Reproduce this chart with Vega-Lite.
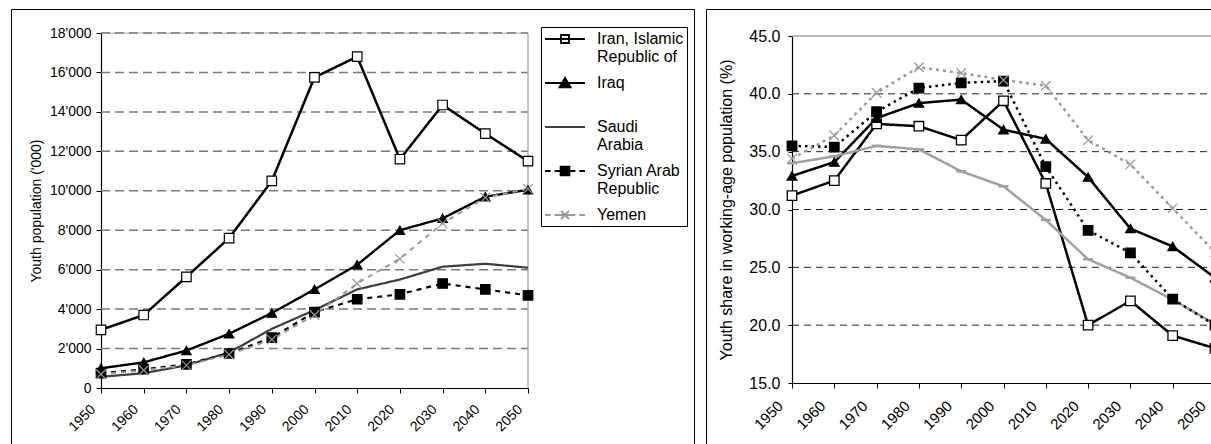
{
  "$schema": "https://vega.github.io/schema/vega-lite/v6.json",
  "padding": {"left": 10, "top": 8, "right": 0, "bottom": 0},
  "spacing": 10,
  "resolve": {
    "scale": {"shape": "independent", "stroke": "independent", "fill": "independent", "strokeDash": "independent", "strokeWidth": "independent"},
    "legend": {"shape": "independent", "stroke": "independent", "fill": "independent", "strokeDash": "independent", "strokeWidth": "independent"}
  },
  "config": {
    "view": {"stroke": "#000000", "strokeWidth": 1},
    "font": "Liberation Sans",
    "axis": {"domainColor": "#000000", "tickColor": "#000000", "labelColor": "#000000", "titleColor": "#000000", "titleFontWeight": "normal", "grid": false, "labelFont": "Liberation Sans", "titleFont": "Liberation Sans", "domainWidth": 1.2, "tickWidth": 1}
  },
  "datasets": {
    "pop": [
      {"country": "Iran, Islamic Republic of", "year": 1950, "value": 2950},
      {"country": "Iran, Islamic Republic of", "year": 1960, "value": 3700},
      {"country": "Iran, Islamic Republic of", "year": 1970, "value": 5630},
      {"country": "Iran, Islamic Republic of", "year": 1980, "value": 7600},
      {"country": "Iran, Islamic Republic of", "year": 1990, "value": 10500},
      {"country": "Iran, Islamic Republic of", "year": 2000, "value": 15750},
      {"country": "Iran, Islamic Republic of", "year": 2010, "value": 16800},
      {"country": "Iran, Islamic Republic of", "year": 2020, "value": 11600},
      {"country": "Iran, Islamic Republic of", "year": 2030, "value": 14350},
      {"country": "Iran, Islamic Republic of", "year": 2040, "value": 12900},
      {"country": "Iran, Islamic Republic of", "year": 2050, "value": 11500},
      {"country": "Iraq", "year": 1950, "value": 1000},
      {"country": "Iraq", "year": 1960, "value": 1300},
      {"country": "Iraq", "year": 1970, "value": 1900},
      {"country": "Iraq", "year": 1980, "value": 2750},
      {"country": "Iraq", "year": 1990, "value": 3800},
      {"country": "Iraq", "year": 2000, "value": 5000},
      {"country": "Iraq", "year": 2010, "value": 6250},
      {"country": "Iraq", "year": 2020, "value": 8000},
      {"country": "Iraq", "year": 2030, "value": 8600},
      {"country": "Iraq", "year": 2040, "value": 9700},
      {"country": "Iraq", "year": 2050, "value": 10050},
      {"country": "Saudi Arabia", "year": 1950, "value": 570},
      {"country": "Saudi Arabia", "year": 1960, "value": 750},
      {"country": "Saudi Arabia", "year": 1970, "value": 1150},
      {"country": "Saudi Arabia", "year": 1980, "value": 1800},
      {"country": "Saudi Arabia", "year": 1990, "value": 3000},
      {"country": "Saudi Arabia", "year": 2000, "value": 3950},
      {"country": "Saudi Arabia", "year": 2010, "value": 5000},
      {"country": "Saudi Arabia", "year": 2020, "value": 5500},
      {"country": "Saudi Arabia", "year": 2030, "value": 6150},
      {"country": "Saudi Arabia", "year": 2040, "value": 6300},
      {"country": "Saudi Arabia", "year": 2050, "value": 6100},
      {"country": "Syrian Arab Republic", "year": 1950, "value": 750},
      {"country": "Syrian Arab Republic", "year": 1960, "value": 950},
      {"country": "Syrian Arab Republic", "year": 1970, "value": 1200},
      {"country": "Syrian Arab Republic", "year": 1980, "value": 1750},
      {"country": "Syrian Arab Republic", "year": 1990, "value": 2550},
      {"country": "Syrian Arab Republic", "year": 2000, "value": 3850},
      {"country": "Syrian Arab Republic", "year": 2010, "value": 4500},
      {"country": "Syrian Arab Republic", "year": 2020, "value": 4750},
      {"country": "Syrian Arab Republic", "year": 2030, "value": 5300},
      {"country": "Syrian Arab Republic", "year": 2040, "value": 5000},
      {"country": "Syrian Arab Republic", "year": 2050, "value": 4700},
      {"country": "Yemen", "year": 1950, "value": 700},
      {"country": "Yemen", "year": 1960, "value": 900},
      {"country": "Yemen", "year": 1970, "value": 1150},
      {"country": "Yemen", "year": 1980, "value": 1700},
      {"country": "Yemen", "year": 1990, "value": 2450},
      {"country": "Yemen", "year": 2000, "value": 3700},
      {"country": "Yemen", "year": 2010, "value": 5300},
      {"country": "Yemen", "year": 2020, "value": 6550},
      {"country": "Yemen", "year": 2030, "value": 8350},
      {"country": "Yemen", "year": 2040, "value": 9650},
      {"country": "Yemen", "year": 2050, "value": 10100}
    ],
    "share": [
      {"country": "Iran, Islamic Republic of", "year": 1950, "value": 31.2},
      {"country": "Iran, Islamic Republic of", "year": 1960, "value": 32.5},
      {"country": "Iran, Islamic Republic of", "year": 1970, "value": 37.4},
      {"country": "Iran, Islamic Republic of", "year": 1980, "value": 37.2},
      {"country": "Iran, Islamic Republic of", "year": 1990, "value": 36.0},
      {"country": "Iran, Islamic Republic of", "year": 2000, "value": 39.4},
      {"country": "Iran, Islamic Republic of", "year": 2010, "value": 32.25},
      {"country": "Iran, Islamic Republic of", "year": 2020, "value": 20.0},
      {"country": "Iran, Islamic Republic of", "year": 2030, "value": 22.1},
      {"country": "Iran, Islamic Republic of", "year": 2040, "value": 19.1},
      {"country": "Iran, Islamic Republic of", "year": 2050, "value": 18.0},
      {"country": "Iraq", "year": 1950, "value": 32.9},
      {"country": "Iraq", "year": 1960, "value": 34.1},
      {"country": "Iraq", "year": 1970, "value": 37.9},
      {"country": "Iraq", "year": 1980, "value": 39.2},
      {"country": "Iraq", "year": 1990, "value": 39.5},
      {"country": "Iraq", "year": 2000, "value": 36.9},
      {"country": "Iraq", "year": 2010, "value": 36.1},
      {"country": "Iraq", "year": 2020, "value": 32.8},
      {"country": "Iraq", "year": 2030, "value": 28.35},
      {"country": "Iraq", "year": 2040, "value": 26.8},
      {"country": "Iraq", "year": 2050, "value": 24.1},
      {"country": "Saudi Arabia", "year": 1950, "value": 34.0},
      {"country": "Saudi Arabia", "year": 1960, "value": 34.6},
      {"country": "Saudi Arabia", "year": 1970, "value": 35.5},
      {"country": "Saudi Arabia", "year": 1980, "value": 35.2},
      {"country": "Saudi Arabia", "year": 1990, "value": 33.3},
      {"country": "Saudi Arabia", "year": 2000, "value": 32.0},
      {"country": "Saudi Arabia", "year": 2010, "value": 29.1},
      {"country": "Saudi Arabia", "year": 2020, "value": 25.7},
      {"country": "Saudi Arabia", "year": 2030, "value": 24.1},
      {"country": "Saudi Arabia", "year": 2040, "value": 22.2},
      {"country": "Saudi Arabia", "year": 2050, "value": 20.1},
      {"country": "Syrian Arab Republic", "year": 1950, "value": 35.5},
      {"country": "Syrian Arab Republic", "year": 1960, "value": 35.4},
      {"country": "Syrian Arab Republic", "year": 1970, "value": 38.45},
      {"country": "Syrian Arab Republic", "year": 1980, "value": 40.5},
      {"country": "Syrian Arab Republic", "year": 1990, "value": 40.95},
      {"country": "Syrian Arab Republic", "year": 2000, "value": 41.1},
      {"country": "Syrian Arab Republic", "year": 2010, "value": 33.7},
      {"country": "Syrian Arab Republic", "year": 2020, "value": 28.2},
      {"country": "Syrian Arab Republic", "year": 2030, "value": 26.25},
      {"country": "Syrian Arab Republic", "year": 2040, "value": 22.25},
      {"country": "Syrian Arab Republic", "year": 2050, "value": 20.0},
      {"country": "Yemen", "year": 1950, "value": 34.4},
      {"country": "Yemen", "year": 1960, "value": 36.4},
      {"country": "Yemen", "year": 1970, "value": 40.1},
      {"country": "Yemen", "year": 1980, "value": 42.3},
      {"country": "Yemen", "year": 1990, "value": 41.8},
      {"country": "Yemen", "year": 2000, "value": 41.2},
      {"country": "Yemen", "year": 2010, "value": 40.7},
      {"country": "Yemen", "year": 2020, "value": 36.0},
      {"country": "Yemen", "year": 2030, "value": 33.9},
      {"country": "Yemen", "year": 2040, "value": 30.1},
      {"country": "Yemen", "year": 2050, "value": 26.3}
    ]
  },
  "hconcat": [
    {
      "width": 683,
      "height": 450,
      "resolve": {
        "scale": {"shape": "independent", "stroke": "independent", "fill": "independent", "strokeDash": "independent", "strokeWidth": "independent"},
        "legend": {"shape": "independent", "stroke": "independent", "fill": "independent", "strokeDash": "independent", "strokeWidth": "independent"}
      },
      "layer": [
        {
          "data": {"values": [{"v": 18000}]},
          "mark": {"type": "rule", "stroke": "#c8c8c8", "strokeWidth": 1.5},
          "encoding": {"y": {"field": "v", "type": "quantitative"}, "x": {"datum": 1950}, "x2": {"datum": 2050}}
        },
        {
          "data": {"values": [{"v": 2000}, {"v": 4000}, {"v": 6000}, {"v": 8000}, {"v": 10000}, {"v": 12000}, {"v": 14000}, {"v": 16000}, {"v": 18000}]},
          "mark": {"type": "rule", "stroke": "#7a7a7a", "strokeWidth": 1.5, "strokeDash": [9, 5]},
          "encoding": {"y": {"field": "v", "type": "quantitative"}, "x": {"datum": 1950}, "x2": {"datum": 2050}}
        },
        {
          "data": {"values": [{"v": 0}]},
          "mark": {"type": "rule", "stroke": "#a0a0a0", "strokeWidth": 1.2},
          "encoding": {"x": {"datum": 2050}, "y": {"datum": 0}, "y2": {"datum": 18000}}
        },
        {
          "data": {"name": "pop"},
          "mark": {"type": "line"},
          "encoding": {
            "x": {"field": "year", "type": "quantitative", "scale": {"domain": [1950, 2050], "range": [90, 517], "nice": false, "zero": false},
              "axis": {"orient": "bottom", "offset": -71, "values": [1950, 1960, 1970, 1980, 1990, 2000, 2010, 2020, 2030, 2040, 2050], "format": "d", "labelAngle": -45, "labelAlign": "right", "labelBaseline": "top", "labelFontSize": 14, "labelPadding": 9, "labelOffset": -13, "tickSize": 5, "title": null}},
            "y": {"field": "value", "type": "quantitative", "scale": {"domain": [0, 18000], "range": [379, 24], "nice": false},
              "axis": {"orient": "left", "offset": -90, "values": [0, 2000, 4000, 6000, 8000, 10000, 12000, 14000, 16000, 18000], "labelExpr": "replace(format(datum.value, ','), ',', \"'\")", "labelFontSize": 14, "tickSize": 5, "labelPadding": 5, "title": "Youth population ('000)", "titleFontSize": 14, "titlePadding": 6}},
            "detail": {"field": "country"},
            "stroke": {"field": "country", "type": "nominal", "legend": null, "scale": {"domain": ["Yemen", "Syrian Arab Republic", "Saudi Arabia", "Iraq", "Iran, Islamic Republic of"], "range": ["#999999", "#000000", "#404040", "#000000", "#000000"]}},
            "strokeDash": {"field": "country", "type": "nominal", "legend": null, "scale": {"domain": ["Yemen", "Syrian Arab Republic", "Saudi Arabia", "Iraq", "Iran, Islamic Republic of"], "range": [[5, 5], [5, 5], [1, 0], [1, 0], [1, 0]]}},
            "strokeWidth": {"field": "country", "type": "nominal", "legend": null, "scale": {"domain": ["Yemen", "Syrian Arab Republic", "Saudi Arabia", "Iraq", "Iran, Islamic Republic of"], "range": [2, 2.5, 2.5, 2, 2]}}
          }
        },
        {
          "data": {"name": "pop"},
          "transform": [{"filter": "datum.country != 'Saudi Arabia'"}],
          "mark": {"type": "point", "filled": true, "opacity": 1, "strokeWidth": 1.2, "size": 90},
          "encoding": {
            "x": {"field": "year", "type": "quantitative"},
            "y": {"field": "value", "type": "quantitative"},
            "stroke": {"field": "country", "type": "nominal", "legend": null, "scale": {"domain": ["Yemen", "Syrian Arab Republic", "Saudi Arabia", "Iraq", "Iran, Islamic Republic of"], "range": ["#999999", "#000000", "#404040", "#000000", "#000000"]}},
            "fill": {"field": "country", "type": "nominal", "legend": null, "scale": {"domain": ["Yemen", "Syrian Arab Republic", "Saudi Arabia", "Iraq", "Iran, Islamic Republic of"], "range": ["transparent", "#000000", "transparent", "#000000", "#ffffff"]}},
            "shape": {"field": "country", "type": "nominal", "legend": null,
              "scale": {"domain": ["Yemen", "Syrian Arab Republic", "Saudi Arabia", "Iraq", "Iran, Islamic Republic of"], "range": ["M-1,-1L1,1M-1,1L1,-1", "square", "circle", "triangle-up", "square"]}}
          }
        },
        {
          "data": {"name": "pop"},
          "transform": [{"filter": "false"}],
          "mark": {"type": "point", "filled": true, "opacity": 1},
          "encoding": {
            "x": {"field": "year", "type": "quantitative"},
            "y": {"field": "value", "type": "quantitative"},
            "shape": {"field": "country", "type": "nominal",
              "scale": {"domain": ["Iran, Islamic Republic of", "Iraq", "Saudi Arabia", "Syrian Arab Republic", "Yemen"],
                "range": [
                  "M-1,0L4,0M1,-0.5L2,-0.5L2,0.5L1,0.5Z",
                  "M-1,0L4,0M1.5,-0.65L2.2,0.55L0.8,0.55Z",
                  "M-1,0L4,0",
                  "M-1,0L-0.3,0M0.2,0L1,0M2,0L2.8,0M3.3,0L4,0M1,0L2,0M0.95,-0.55L2.05,-0.55L2.05,0.55L0.95,0.55Z",
                  "M-1,0L-0.3,0M0.2,0L0.9,0M2.1,0L2.8,0M3.3,0L4,0M0.9,0L2.1,0M1,-0.5L2,0.5M1,0.5L2,-0.5"
                ]},
              "legend": {
                "title": null, "orient": "none", "legendX": 530, "legendY": 18,
                "strokeColor": "#000000", "fillColor": "#ffffff", "padding": 3,
                "symbolSize": 256, "symbolOpacity": 1, "labelFont": "Liberation Sans", "labelFontSize": 16, "labelColor": "#000000",
                "labelOffset": 35, "labelLimit": 300, "rowPadding": 9, "gridAlign": "all",
                "labelExpr": "datum.value == 'Iran, Islamic Republic of' ? ['Iran, Islamic', 'Republic of'] : datum.value == 'Saudi Arabia' ? ['Saudi', 'Arabia'] : datum.value == 'Syrian Arab Republic' ? ['Syrian Arab', 'Republic'] : datum.label"
              }
            },
            "fill": {"field": "country", "type": "nominal", "scale": {"domain": ["Iran, Islamic Republic of", "Iraq", "Saudi Arabia", "Syrian Arab Republic", "Yemen"], "range": ["#ffffff", "#000000", "transparent", "#000000", "transparent"]}},
            "stroke": {"field": "country", "type": "nominal", "scale": {"domain": ["Iran, Islamic Republic of", "Iraq", "Saudi Arabia", "Syrian Arab Republic", "Yemen"], "range": ["#000000", "#000000", "#404040", "#000000", "#999999"]}},
            "strokeWidth": {"field": "country", "type": "nominal", "scale": {"domain": ["Iran, Islamic Republic of", "Iraq", "Saudi Arabia", "Syrian Arab Republic", "Yemen"], "range": [1.8, 1.8, 2.5, 2.5, 1.8]}}
          }
        }
      ]
    },
    {
      "width": 520,
      "height": 450,
      "layer": [
        {
          "data": {"values": [{"v": 20}, {"v": 25}, {"v": 30}, {"v": 35}, {"v": 40}]},
          "mark": {"type": "rule", "stroke": "#222222", "strokeWidth": 1, "strokeDash": [7, 5]},
          "encoding": {"y": {"field": "v", "type": "quantitative"}, "x": {"datum": 1950}, "x2": {"datum": 2050}}
        },
        {
          "data": {"values": [{"v": 45}]},
          "mark": {"type": "rule", "stroke": "#a0a0a0", "strokeWidth": 1.5},
          "encoding": {"y": {"field": "v", "type": "quantitative"}, "x": {"datum": 1950}, "x2": {"datum": 2050}}
        },
        {
          "data": {"name": "share"},
          "mark": {"type": "line"},
          "encoding": {
            "x": {"field": "year", "type": "quantitative", "scale": {"domain": [1950, 2050], "range": [86, 509], "nice": false, "zero": false},
              "axis": {"orient": "bottom", "offset": -76, "values": [1950, 1960, 1970, 1980, 1990, 2000, 2010, 2020, 2030, 2040, 2050], "format": "d", "labelAngle": -45, "labelAlign": "right", "labelBaseline": "top", "labelFontSize": 15, "labelPadding": 10, "labelOffset": -17, "tickSize": 5, "title": null}},
            "y": {"field": "value", "type": "quantitative", "scale": {"domain": [15, 45], "range": [374, 27], "nice": false, "zero": false},
              "axis": {"orient": "left", "offset": -86, "values": [15, 20, 25, 30, 35, 40, 45], "format": ".1f", "labelFontSize": 16, "tickSize": 4, "labelPadding": 8, "title": "Youth share in working-age population (%)", "titleFontSize": 16, "titlePadding": 14}},
            "detail": {"field": "country"},
            "stroke": {"field": "country", "type": "nominal", "legend": null, "scale": {"domain": ["Yemen", "Syrian Arab Republic", "Saudi Arabia", "Iraq", "Iran, Islamic Republic of"], "range": ["#999999", "#000000", "#a0a0a0", "#000000", "#000000"]}},
            "strokeDash": {"field": "country", "type": "nominal", "legend": null, "scale": {"domain": ["Yemen", "Syrian Arab Republic", "Saudi Arabia", "Iraq", "Iran, Islamic Republic of"], "range": [[3, 4], [2.5, 4], [1, 0], [1, 0], [1, 0]]}},
            "strokeWidth": {"field": "country", "type": "nominal", "legend": null, "scale": {"domain": ["Yemen", "Syrian Arab Republic", "Saudi Arabia", "Iraq", "Iran, Islamic Republic of"], "range": [2.5, 2.5, 2.5, 1.8, 1.8]}}
          }
        },
        {
          "data": {"name": "share"},
          "transform": [{"filter": "datum.country == 'Saudi Arabia'"}],
          "mark": {"type": "point", "shape": "M-1,0L1,0", "stroke": "#a0a0a0", "strokeWidth": 2.5, "size": 100, "opacity": 1},
          "encoding": {
            "x": {"field": "year", "type": "quantitative"},
            "y": {"field": "value", "type": "quantitative"}
          }
        },
        {
          "data": {"name": "share"},
          "transform": [{"filter": "datum.country != 'Saudi Arabia'"}],
          "mark": {"type": "point", "filled": true, "opacity": 1, "strokeWidth": 1.3, "size": 90},
          "encoding": {
            "x": {"field": "year", "type": "quantitative"},
            "y": {"field": "value", "type": "quantitative"},
            "stroke": {"field": "country", "type": "nominal", "legend": null},
            "fill": {"field": "country", "type": "nominal", "legend": null, "scale": {"domain": ["Yemen", "Syrian Arab Republic", "Saudi Arabia", "Iraq", "Iran, Islamic Republic of"], "range": ["transparent", "#000000", "transparent", "#000000", "#ffffff"]}},
            "shape": {"field": "country", "type": "nominal", "legend": null,
              "scale": {"domain": ["Iran, Islamic Republic of", "Iraq", "Saudi Arabia", "Syrian Arab Republic", "Yemen"], "range": ["square", "triangle-up", "M-1,0L1,0", "square", "M-1,-1L1,1M-1,1L1,-1"]}}
          }
        }
      ]
    }
  ]
}
